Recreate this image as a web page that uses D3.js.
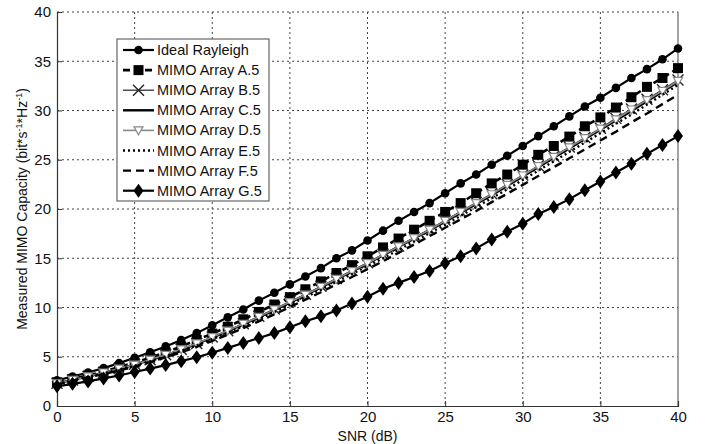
<!DOCTYPE html>
<html>
<head>
<meta charset="utf-8">
<script src="https://cdn.jsdelivr.net/npm/d3@7"></script>
<style>
  body { margin: 0; background: #fff; }
  text { font-family: "Liberation Sans", Arial, sans-serif; }
</style>
</head>
<body>
<svg id="drawing_region"></svg>
<script>
const snr = d3.range( 0, 41 );   // 0..40 dB, one point per dB

const ideal = [2.6,3.0,3.4,3.85,4.35,4.9,5.45,6.05,6.7,7.4,8.2,9.0,9.8,10.7,11.5,12.35,13.15,14.0,15.0,15.8,16.8,
               17.8,18.8,19.7,20.6,21.6,22.6,23.5,24.5,25.4,26.4,27.4,28.4,29.4,30.4,31.3,32.3,33.3,34.2,35.2,36.3];
const arrayA = [2.4,2.75,3.1,3.5,3.95,4.4,4.9,5.45,6.05,6.7,7.35,8.05,8.8,9.55,10.3,11.05,11.85,12.65,13.5,14.3,15.2,
                16.1,17.0,17.9,18.8,19.7,20.6,21.6,22.6,23.5,24.5,25.5,26.4,27.35,28.4,29.3,30.3,31.35,32.4,33.3,34.3];
const arrayB = [2.3,2.65,3.0,3.4,3.8,4.25,4.7,5.2,5.75,6.35,7.0,7.65,8.35,9.1,9.85,10.6,11.35,12.15,12.95,13.75,14.55,
                15.4,16.25,17.1,17.95,18.85,19.75,20.65,21.55,22.5,23.45,24.4,25.35,26.3,27.25,28.2,29.2,30.15,31.15,32.1,33.1];
const arrayC = [2.3,2.65,3.0,3.35,3.75,4.2,4.65,5.15,5.7,6.3,6.95,7.6,8.3,9.0,9.75,10.5,11.25,12.05,12.85,13.65,14.45,
                15.3,16.15,17.0,17.85,18.7,19.6,20.5,21.4,22.35,23.3,24.25,25.2,26.15,27.1,28.05,29.0,29.95,30.95,31.9,32.9];
const arrayD = [2.3,2.65,3.0,3.4,3.8,4.2,4.7,5.2,5.75,6.35,7.0,7.65,8.35,9.05,9.8,10.55,11.3,12.1,12.9,13.7,14.5,
                15.35,16.2,17.05,17.9,18.8,19.7,20.6,21.5,22.45,23.4,24.35,25.3,26.25,27.2,28.15,29.1,30.1,31.05,32.0,33.0];
const arrayE = [2.25,2.6,2.95,3.3,3.7,4.1,4.55,5.05,5.6,6.15,6.8,7.45,8.1,8.8,9.55,10.3,11.05,11.8,12.6,13.4,14.2,
                15.0,15.85,16.7,17.55,18.4,19.3,20.2,21.1,22.0,22.95,23.9,24.85,25.8,26.75,27.7,28.65,29.6,30.6,31.6,32.6];
const arrayF = [2.2,2.55,2.9,3.25,3.6,4.0,4.45,4.95,5.45,6.0,6.6,7.25,7.9,8.6,9.3,10.05,10.8,11.55,12.35,13.1,13.9,
                14.7,15.55,16.4,17.25,18.1,18.95,19.8,20.7,21.55,22.45,23.35,24.25,25.15,26.05,26.95,27.85,28.8,29.7,30.65,31.6];
const arrayG = [2.0,2.25,2.5,2.8,3.1,3.45,3.8,4.15,4.55,4.95,5.4,5.9,6.4,6.9,7.4,8.0,8.6,9.1,9.7,10.4,11.1,
                11.9,12.5,13.1,13.7,14.5,15.2,16.0,16.9,17.7,18.5,19.5,20.2,21.0,21.9,22.8,23.7,24.6,25.6,26.5,27.4];

const seriesNames = [ 'Ideal Rayleigh', 'MIMO Array A.5', 'MIMO Array B.5', 'MIMO Array C.5',
                      'MIMO Array D.5', 'MIMO Array E.5', 'MIMO Array F.5', 'MIMO Array G.5' ];
const seriesValues = [ ideal, arrayA, arrayB, arrayC, arrayD, arrayE, arrayF, arrayG ];
const xTicks = [ 0, 5, 10, 15, 20, 25, 30, 35, 40 ];
const yTicks = [ 0, 5, 10, 15, 20, 25, 30, 35, 40 ];

// line / marker style per series
const styles = [
    { color: '#000', width: 2.2, dash: null,   marker: 'circle' },
    { color: '#000', width: 2.6, dash: '7,4',  marker: 'square' },
    { color: '#222', width: 1.2, dash: null,   marker: 'cross' },
    { color: '#000', width: 2.4, dash: null,   marker: null },
    { color: '#888', width: 1.6, dash: null,   marker: 'triangle' },
    { color: '#000', width: 2.4, dash: '2,3',  marker: null },
    { color: '#000', width: 2.4, dash: '8,5',  marker: null },
    { color: '#000', width: 2.2, dash: null,   marker: 'diamond' }
];

const config = {
    width: 709,
    height: 444,
    margin: { top: 12, right: 31, bottom: 38, left: 57 }
};

const svg = d3.select( '#drawing_region' )
    .attr( 'width', config.width )
    .attr( 'height', config.height );

const innerW = config.width - config.margin.left - config.margin.right;
const innerH = config.height - config.margin.top - config.margin.bottom;

const g = svg.append( 'g' )
    .attr( 'transform', `translate(${config.margin.left}, ${config.margin.top})` );

const xScale = d3.scaleLinear().domain( [0, 40] ).range( [0, innerW] );
const yScale = d3.scaleLinear().domain( [0, 40] ).range( [innerH, 0] );

// dotted grid
g.append( 'g' ).selectAll( 'line' )
    .data( xTicks.slice( 1, -1 ) )
    .join( 'line' )
    .attr( 'x1', d => xScale( d ) ).attr( 'x2', d => xScale( d ) )
    .attr( 'y1', 0 ).attr( 'y2', innerH )
    .attr( 'stroke', '#444' ).attr( 'stroke-width', 1 )
    .attr( 'stroke-dasharray', '2,3' );
g.append( 'g' ).selectAll( 'line' )
    .data( yTicks.slice( 1 ) )
    .join( 'line' )
    .attr( 'x1', 0 ).attr( 'x2', innerW )
    .attr( 'y1', d => yScale( d ) ).attr( 'y2', d => yScale( d ) )
    .attr( 'stroke', '#444' ).attr( 'stroke-width', 1 )
    .attr( 'stroke-dasharray', '2,3' );

// right border
g.append( 'line' )
    .attr( 'x1', innerW ).attr( 'x2', innerW ).attr( 'y1', 0 ).attr( 'y2', innerH )
    .attr( 'stroke', '#666' ).attr( 'stroke-width', 1.2 );

// axes
const xAxis = g.append( 'g' )
    .attr( 'transform', `translate(0, ${innerH})` )
    .call( d3.axisBottom( xScale ).tickValues( xTicks ).tickSize( -5 ).tickPadding( 5 ) );
const yAxis = g.append( 'g' )
    .call( d3.axisLeft( yScale ).tickValues( yTicks ).tickSize( -5 ).tickPadding( 6 ) );

[ xAxis, yAxis ].forEach( ax => {
    ax.select( '.domain' ).attr( 'stroke', '#333' ).attr( 'stroke-width', 1.2 );
    ax.selectAll( '.tick line' ).attr( 'stroke', '#333' );
    ax.selectAll( 'text' ).style( 'font-size', '15px' ).attr( 'fill', '#111' );
} );

// marker drawing
function drawMarker( sel, type, color ) {
    if ( type === 'circle' ) {
        sel.append( 'circle' ).attr( 'r', 4.3 ).attr( 'fill', color );
    } else if ( type === 'square' ) {
        sel.append( 'rect' ).attr( 'x', -5 ).attr( 'y', -5 )
            .attr( 'width', 10 ).attr( 'height', 10 ).attr( 'fill', color );
    } else if ( type === 'cross' ) {
        sel.append( 'path' ).attr( 'd', 'M-5.5,-5.5L5.5,5.5M-5.5,5.5L5.5,-5.5' )
            .attr( 'stroke', color ).attr( 'stroke-width', 1.4 ).attr( 'fill', 'none' );
    } else if ( type === 'triangle' ) {
        sel.append( 'path' ).attr( 'd', 'M-4.5,-3.5L4.5,-3.5L0,4.5Z' )
            .attr( 'stroke', color ).attr( 'stroke-width', 1.2 ).attr( 'fill', '#fff' );
    } else if ( type === 'diamond' ) {
        sel.append( 'path' ).attr( 'd', 'M0,-7L5,0L0,7L-5,0Z' ).attr( 'fill', color );
    }
}

const line = d3.line()
    .x( d => xScale( d[0] ) )
    .y( d => yScale( d[1] ) );

const plot = g.append( 'g' );
seriesValues.forEach( ( vals, i ) => {
    const st = styles[i];
    const pts = snr.map( ( x, j ) => [ x, vals[j] ] );
    plot.append( 'path' )
        .attr( 'd', line( pts ) )
        .attr( 'fill', 'none' )
        .attr( 'stroke', st.color )
        .attr( 'stroke-width', st.width )
        .attr( 'stroke-dasharray', st.dash );
    if ( st.marker ) {
        plot.append( 'g' ).selectAll( 'g' )
            .data( pts )
            .join( 'g' )
            .attr( 'transform', d => `translate(${xScale( d[0] )}, ${yScale( d[1] )})` )
            .each( function() { drawMarker( d3.select( this ), st.marker, st.color ); } );
    }
} );

// legend
const legend = g.append( 'g' ).attr( 'transform', 'translate(60, 27)' );
legend.append( 'rect' )
    .attr( 'width', 152 ).attr( 'height', 162 )
    .attr( 'fill', '#fff' ).attr( 'stroke', '#666' ).attr( 'stroke-width', 1.2 );
seriesNames.forEach( ( name, i ) => {
    const st = styles[i];
    const row = legend.append( 'g' ).attr( 'transform', `translate(0, ${11 + i * 20.1})` );
    row.append( 'line' )
        .attr( 'x1', 6 ).attr( 'x2', 37 )
        .attr( 'stroke', st.color ).attr( 'stroke-width', st.width )
        .attr( 'stroke-dasharray', st.dash );
    if ( st.marker ) {
        drawMarker( row.append( 'g' ).attr( 'transform', 'translate(21.5, 0)' ), st.marker, st.color );
    }
    row.append( 'text' )
        .attr( 'x', 40 ).attr( 'y', 5 )
        .style( 'font-size', '14.5px' ).attr( 'fill', '#111' )
        .text( name );
} );

// axis titles
svg.append( 'text' )
    .attr( 'x', config.margin.left + innerW / 2 ).attr( 'y', 441 )
    .attr( 'text-anchor', 'middle' ).style( 'font-size', '14px' ).attr( 'fill', '#111' )
    .text( 'SNR (dB)' );

const yTitle = svg.append( 'text' )
    .attr( 'transform', `translate(27, ${config.margin.top + innerH / 2}) rotate(-90)` )
    .attr( 'text-anchor', 'middle' ).style( 'font-size', '14px' ).attr( 'fill', '#111' );
yTitle.append( 'tspan' ).text( 'Measured MIMO Capacity (bit*s' );
yTitle.append( 'tspan' ).attr( 'dy', -5 ).style( 'font-size', '9px' ).text( '-1' );
yTitle.append( 'tspan' ).attr( 'dy', 5 ).text( '*Hz' );
yTitle.append( 'tspan' ).attr( 'dy', -5 ).style( 'font-size', '9px' ).text( '-1' );
yTitle.append( 'tspan' ).attr( 'dy', 5 ).text( ')' );
</script>
</body>
</html>
